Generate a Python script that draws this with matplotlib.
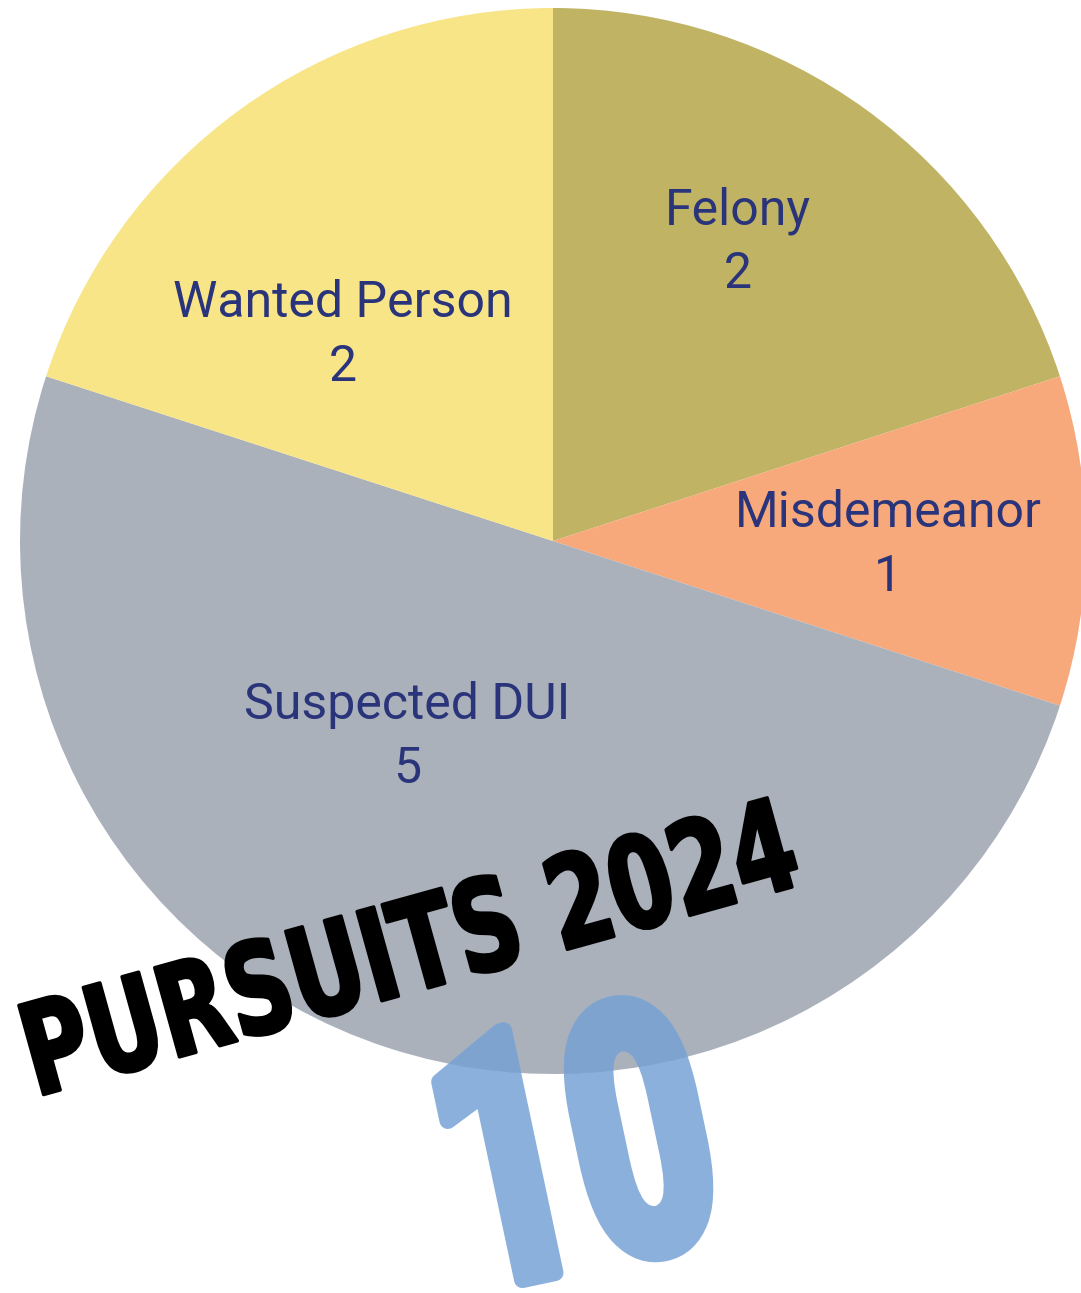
import matplotlib
matplotlib.use("Agg")
import matplotlib.pyplot as plt
from matplotlib.textpath import TextPath
from matplotlib.patches import PathPatch, Circle
from matplotlib.font_manager import FontProperties
from matplotlib.transforms import Affine2D

# data
categories = ["Felony", "Misdemeanor", "Suspected DUI", "Wanted Person"]
counts = [2, 1, 5, 2]
colors = ["#C0B363", "#F7A97B", "#AAB1BB", "#F8E588"]
title_text = "PURSUITS 2024"
total_text = str(sum(counts))

W, H = 1081, 1293


def draw_word(ax, s, prop, width, height, angle, center, lw=0, clip=None, **kw):
    """Draw text as a path stretched to a given box, then rotated."""
    tp = TextPath((0, 0), s, size=100, prop=prop)
    ext = tp.get_extents()
    tr = (Affine2D()
          .translate(-(ext.x0 + ext.x1) / 2, -(ext.y0 + ext.y1) / 2)
          .scale(width / ext.width, height / ext.height)
          .rotate_deg(angle)
          .translate(*center))
    p = PathPatch(tr.transform_path(tp), lw=lw, joinstyle="round", **kw)
    ax.add_patch(p)
    if clip is not None:
        p.set_clip_path(clip)
    return p


fig = plt.figure(figsize=(W / 100, H / 100), dpi=100)
ax = fig.add_axes([0, 0, 1, 1])

cx, cy, R = 553, H - 541, 533
labels = [f"{c}\n{n}" for c, n in zip(categories, counts)]
wedges, texts = ax.pie(counts, colors=colors, startangle=90, counterclock=False,
                       center=(cx, cy), radius=R, labels=labels,
                       wedgeprops=dict(linewidth=0),
                       textprops=dict(fontsize=36, family="Roboto", color="#2A347A",
                                      ha="center", va="center", linespacing=1.4))

# label placement (pixels from pie centre)
label_offsets = [(185, 299), (335, -4), (-146, -196), (-210, 206)]
for t, (dx, dy) in zip(texts, label_offsets):
    t.set_position((cx + dx, cy + dy))
    t.set_ha("center")
    t.set_va("center")

ax.set_xlim(0, W)
ax.set_ylim(0, H)
ax.set_aspect("equal")
ax.axis("off")

heavy = FontProperties(family="DejaVu Sans", weight="bold")
draw_word(ax, title_text, heavy, 786, 96, 15.5, (410, H - 945), lw=2.5,
          color="black", zorder=5)

# big total: lighter blue outside the pie, darker where it sits on the grey slice
num_font = FontProperties(family="Roboto", weight="bold")
disc = Circle((cx, cy), R, transform=ax.transData)
num_box = dict(width=242, height=254, angle=12, center=(576, H - 1142), lw=12)
draw_word(ax, total_text, num_font, color="#8BB0DC", zorder=4, **num_box)
draw_word(ax, total_text, num_font, color="#7FA3CF", zorder=4.1, clip=disc, **num_box)

fig.savefig("out.png", dpi=100)
